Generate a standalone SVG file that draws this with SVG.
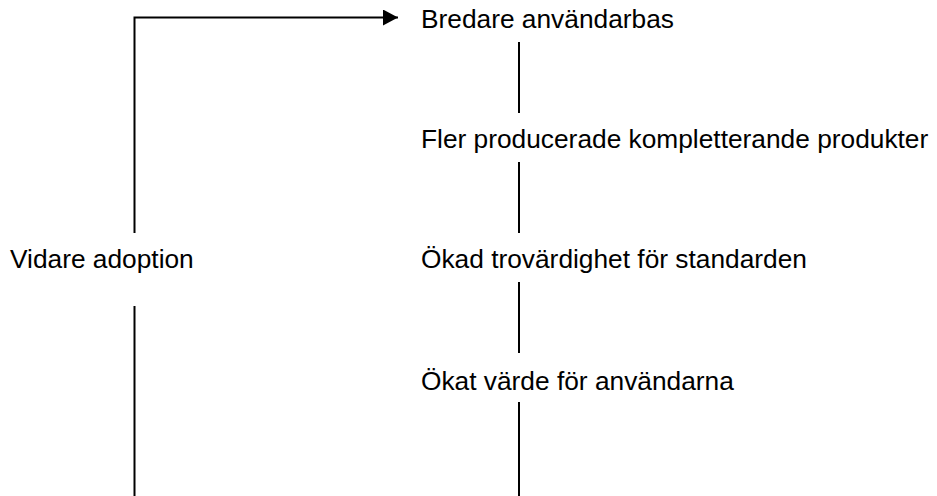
<svg xmlns="http://www.w3.org/2000/svg" width="937" height="496" viewBox="0 0 937 496">
<style>
text{font-family:"Liberation Sans",Arial,sans-serif;font-size:26.3px;fill:#000}
.c{stroke:#000;stroke-width:2;fill:none}
</style>
<defs>
<marker id="ah" markerWidth="16" markerHeight="16" refX="15" refY="8" orient="auto" markerUnits="userSpaceOnUse">
<path d="M0,0 L15,8 L0,16 Z" fill="#000"/>
</marker>
</defs>
<rect width="937" height="496" fill="#fff"/>
<g id="connectors">
<path class="c" d="M134.5,233 V17.5 H398" marker-end="url(#ah)"/>
<path class="c" d="M134.5,306 V496"/>
<path class="c" d="M519,42 V113"/>
<path class="c" d="M519,162 V233"/>
<path class="c" d="M519,282 V353"/>
<path class="c" d="M519,402 V496"/>
</g>
<g id="n1"><text x="421" y="27.5">Bredare användarbas</text></g>
<g id="n2"><text x="421" y="147.5">Fler producerade kompletterande produkter</text></g>
<g id="n3"><text x="421" y="267.5">Ökad trovärdighet för standarden</text></g>
<g id="n4"><text x="421" y="389.5">Ökat värde för användarna</text></g>
<g id="n5"><text x="10" y="267.5">Vidare adoption</text></g>
</svg>
